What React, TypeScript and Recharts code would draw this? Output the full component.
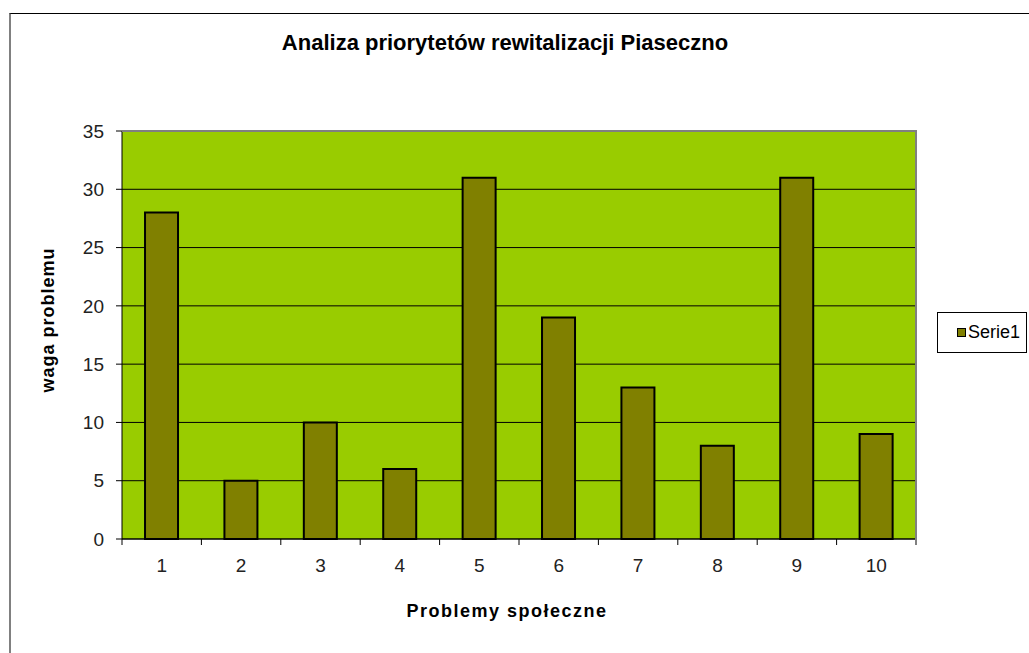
import React from "react";
import { BarChart, Bar, XAxis, YAxis, CartesianGrid } from "recharts";

// chart values
const categories = ["1", "2", "3", "4", "5", "6", "7", "8", "9", "10"];
const serie1 = [28, 5, 10, 6, 31, 19, 13, 8, 31, 9];
const yTicks = [0, 5, 10, 15, 20, 25, 30, 35];

const data = categories.map((c, i) => ({ name: c, Serie1: serie1[i] }));

const W = 1029;
const H = 653;
const PLOT_LEFT = 122;
const PLOT_TOP = 131;
const PLOT_RIGHT = 916;
const PLOT_BOTTOM = 539;
const PLOT_W = PLOT_RIGHT - PLOT_LEFT;
const FONT = "'Liberation Sans', Arial, sans-serif";

// x ticks: Excel puts tick marks between categories, not under them
const XTick = (props: any) => {
  const { x, y, index } = props;
  const step = PLOT_W / categories.length;
  return (
    <g>
      <line x1={x - step / 2} y1={y} x2={x - step / 2} y2={y + 6} stroke="#000" />
      {index === categories.length - 1 && (
        <line x1={x + step / 2} y1={y} x2={x + step / 2} y2={y + 6} stroke="#000" />
      )}
      <text
        x={x}
        y={y + 26}
        textAnchor="middle"
        dominantBaseline="central"
        fontSize={19}
        fill="#222"
        fontFamily={FONT}
      >
        {props.payload.value}
      </text>
    </g>
  );
};

export default function App() {
  return (
    <div
      style={{
        position: "absolute",
        left: 0,
        top: 0,
        width: W,
        height: H,
        background: "#fff",
        fontFamily: FONT,
        overflow: "hidden",
      }}
    >
      {/* outer chart frame, cut off at right/bottom */}
      <div
        style={{
          position: "absolute",
          left: 9,
          top: 13,
          width: 1200,
          height: 800,
          borderTop: "1px solid #000",
          borderLeft: "2px solid #808080",
        }}
      />
      <div
        style={{
          position: "absolute",
          left: 0,
          width: 1010,
          top: 30,
          textAlign: "center",
          fontWeight: "bold",
          fontSize: 22,
        }}
      >
        Analiza priorytetów rewitalizacji Piaseczno
      </div>
      <div style={{ position: "absolute", left: 0, top: 0 }}>
        <BarChart
          width={W}
          height={H}
          data={data}
          margin={{ top: PLOT_TOP, right: W - PLOT_RIGHT, left: PLOT_LEFT - 60, bottom: H - PLOT_BOTTOM - 30 }}
          barCategoryGap="29%"
        >
          <CartesianGrid
            vertical={false}
            stroke="#000"
            fill="#99CC00"
            fillOpacity={1}
          />
          <XAxis
            dataKey="name"
            height={30}
            axisLine={{ stroke: "#000" }}
            tickLine={false}
            tickSize={0}
            tickMargin={0}
            tick={<XTick />}
            interval={0}
          />
          <YAxis
            width={60}
            domain={[0, 35]}
            ticks={yTicks}
            interval={0}
            axisLine={{ stroke: "#000" }}
            tickLine={{ stroke: "#000" }}
            tickSize={6}
            tickMargin={12}
            tick={{ fontSize: 19, fill: "#222", fontFamily: FONT }}
          />
          <Bar
            dataKey="Serie1"
            fill="#808000"
            stroke="#000"
            strokeWidth={2}
            isAnimationActive={false}
          />
        </BarChart>
      </div>
      {/* plot area border top/right */}
      <div
        style={{
          position: "absolute",
          left: PLOT_LEFT,
          top: PLOT_TOP - 1,
          width: PLOT_W - 1,
          height: PLOT_BOTTOM - PLOT_TOP + 4,
          borderTop: "2px solid #808080",
          borderRight: "2px solid #808080",
          pointerEvents: "none",
        }}
      />
      <div
        style={{
          position: "absolute",
          left: 48,
          top: 320,
          transform: "translate(-50%, -50%) rotate(-90deg)",
          whiteSpace: "nowrap",
          fontWeight: "bold",
          fontSize: 18,
          letterSpacing: 1,
        }}
      >
        waga problemu
      </div>
      <div
        style={{
          position: "absolute",
          left: 507,
          top: 611,
          transform: "translate(-50%, -50%)",
          whiteSpace: "nowrap",
          fontWeight: "bold",
          fontSize: 18,
          letterSpacing: 1.5,
        }}
      >
        Problemy społeczne
      </div>
      {/* legend */}
      <div
        style={{
          position: "absolute",
          left: 937,
          top: 312,
          width: 90,
          height: 41,
          border: "1px solid #000",
          boxSizing: "border-box",
          display: "flex",
          alignItems: "center",
        }}
      >
        <span
          style={{
            display: "inline-block",
            width: 7,
            height: 7,
            marginLeft: 19,
            marginRight: 2,
            background: "#808000",
            border: "1px solid #000",
          }}
        />
        <span style={{ fontSize: 18 }}>Serie1</span>
      </div>
    </div>
  );
}
